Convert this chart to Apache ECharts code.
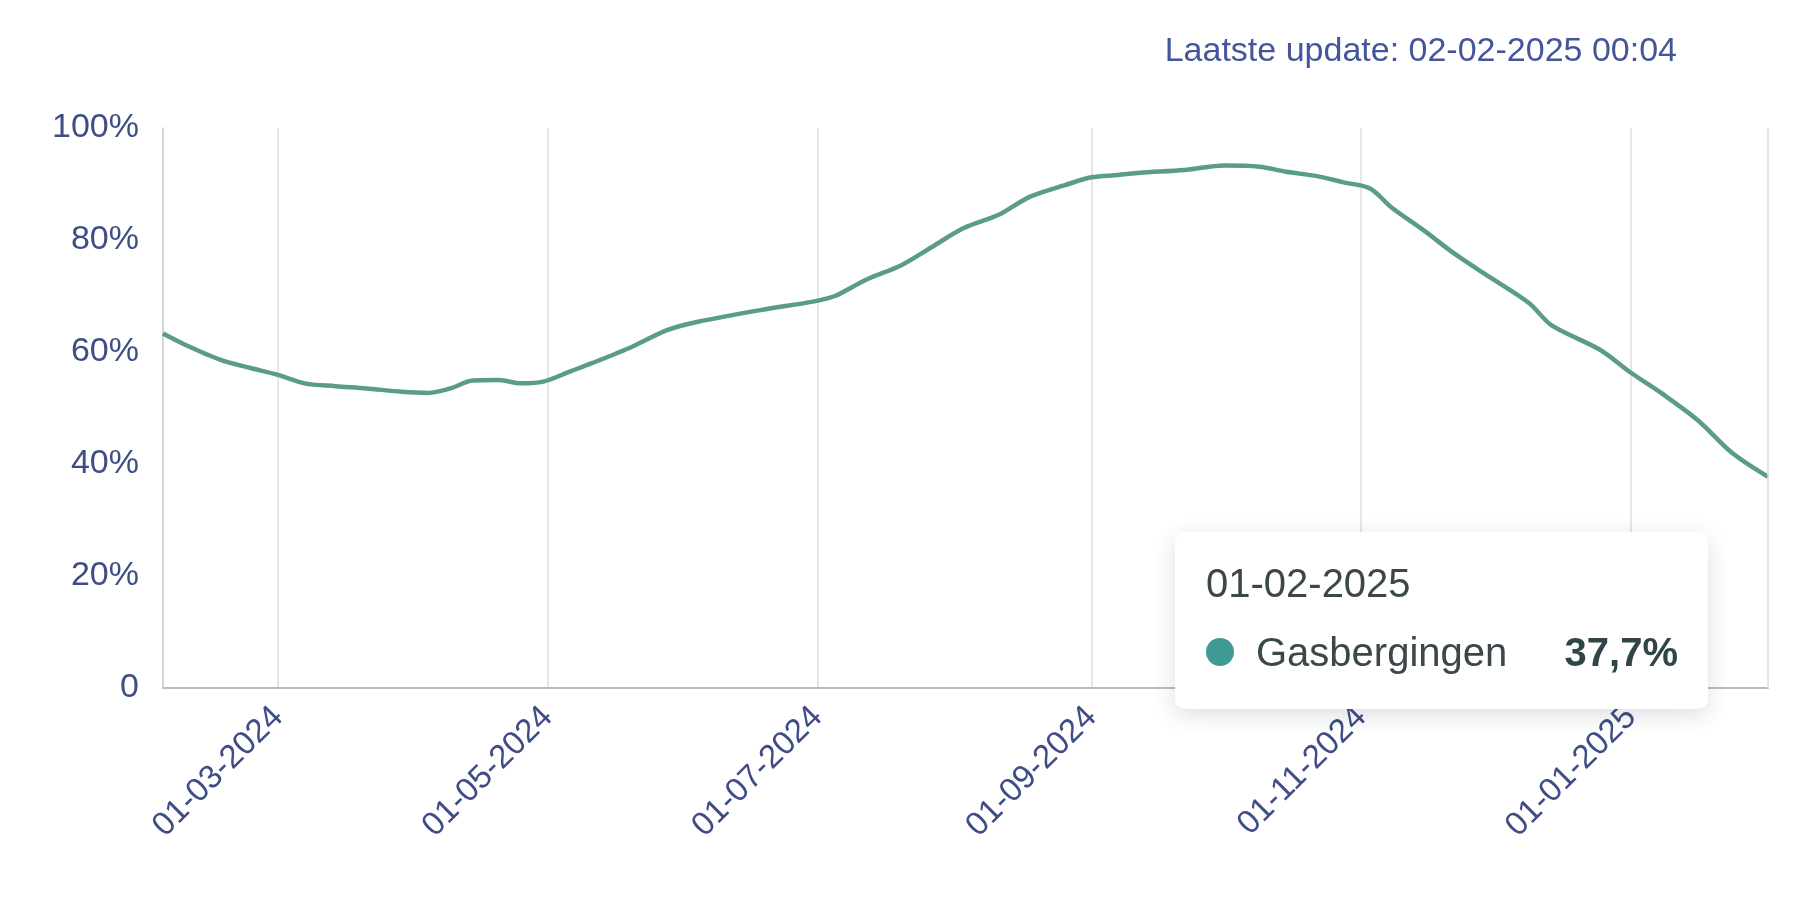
<!DOCTYPE html>
<html>
<head>
<meta charset="utf-8">
<title>Gasbergingen</title>
<script src="https://cdn.jsdelivr.net/npm/echarts@6/dist/echarts.min.js"></script>
<style>
  html, body { margin: 0; padding: 0; background: #ffffff; }
  #chart { width: 1820px; height: 910px; }
</style>
</head>
<body>
<div id="chart"></div>
<script>
 var seriesName = 'Gasbergingen';
 var updateText = 'Laatste update: 02-02-2025 00:04';
 var dates = ['2024-02-04','2024-02-09','2024-02-17','2024-02-24','2024-03-01','2024-03-07','2024-03-14','2024-03-21','2024-03-29','2024-04-04',
              '2024-04-09','2024-04-14','2024-04-20','2024-04-25','2024-04-30','2024-05-06','2024-05-11','2024-05-20','2024-05-28','2024-06-04',
              '2024-06-19','2024-06-30','2024-07-05','2024-07-12','2024-07-20','2024-07-27','2024-08-03','2024-08-11','2024-08-18','2024-08-26',
              '2024-09-01','2024-09-07','2024-09-12','2024-09-22','2024-10-01','2024-10-09','2024-10-15','2024-10-22','2024-10-28','2024-11-03',
              '2024-11-08','2024-11-15','2024-11-22','2024-11-30','2024-12-09','2024-12-14','2024-12-25','2025-01-01','2025-01-08','2025-01-16',
              '2025-01-24','2025-02-01'];
 var values = [63.3,61.3,58.6,57.1,55.9,54.4,53.9,53.5,52.9,52.7,
               53.5,54.9,55.0,54.4,54.7,56.5,58.0,60.9,63.9,65.4,
               67.6,69.0,70.0,72.9,75.5,78.8,82.1,84.5,87.7,89.8,
               91.2,91.6,92.0,92.5,93.3,93.1,92.2,91.4,90.3,89.2,
               85.7,81.8,77.6,73.4,68.7,64.8,60.4,56.3,52.6,47.9,
               41.9,37.7];
 var xTicks = ['2024-03-01','2024-05-01','2024-07-01','2024-09-01','2024-11-01','2025-01-01'];

 function pad(n) {
   return (n < 10 ? '0' : '') + n;
 }
 function toTime(s) {
   var p = s.split('-');
   return new Date(+p[0], +p[1] - 1, +p[2]).getTime();
 }
 function fmtDate(v) {
   var d = new Date(v);
   return pad(d.getDate()) + '-' + pad(d.getMonth() + 1) + '-' + d.getFullYear();
 }

 function makeOption() {
   var data = [];
   for (var i = 0; i < dates.length; i++) {
     data.push([toTime(dates[i]), values[i]]);
   }
   var tickTimes = xTicks.map(toTime);
   var option = {
     animation: false,
     textStyle: { fontFamily: 'Liberation Sans, Arial, sans-serif' },
     title: {
       text: updateText,
       right: 143,
       top: 35,
       padding: 0,
       textStyle: { color: '#44559a', fontSize: 34, fontWeight: 'normal' }
     },
     grid: { left: 163, right: 52, top: 128, bottom: 222, outerBoundsMode: 'none' },
     tooltip: {
       trigger: 'axis',
       triggerOn: 'none',
       alwaysShowContent: true,
       transitionDuration: 0,
       position: [1175, 532],
       backgroundColor: '#ffffff',
       borderWidth: 0,
       padding: 0,
       extraCssText: 'border-radius:10px;box-shadow:0 6px 22px rgba(40,50,60,0.16);',
       axisPointer: {
         type: 'line',
         label: { show: false },
         lineStyle: { color: '#d9dbe2', width: 1.5, type: 'solid' }
       },
       formatter: function (params) {
         var p = params[0];
         var val = p.value[1].toFixed(1).replace('.', ',') + '%';
         return '<div style="width:472px;padding:28px 30px 34px 31px;font-family:Liberation Sans,Arial,sans-serif;color:#3c4749;">' +
           '<div style="font-size:40px;line-height:46px;">' + fmtDate(p.value[0]) + '</div>' +
           '<div style="font-size:40px;line-height:46px;margin-top:23px;display:flex;align-items:center;">' +
           '<span style="display:inline-block;width:28px;height:28px;border-radius:14px;background:#3f9a94;margin-right:22px;"></span>' +
           '<span style="flex:1;">' + seriesName + '</span>' +
           '<span style="font-weight:bold;color:#2f4547;">' + val + '</span>' +
           '</div></div>';
       }
     },
     xAxis: {
       type: 'value',
       min: toTime(dates[0]),
       max: toTime(dates[dates.length - 1]),
       axisLine: { show: true, lineStyle: { color: '#b7bbc6', width: 2 } },
       axisTick: { show: false, customValues: tickTimes },
       splitLine: { show: true, lineStyle: { color: '#dcdee5', width: 1.5 } },
       axisLabel: {
         customValues: tickTimes,
         rotate: 45,
         margin: 24,
         fontSize: 33,
         color: '#3e4d86',
         formatter: function (v) { return fmtDate(v); }
       }
     },
     yAxis: {
       type: 'value',
       min: 0,
       max: 100,
       interval: 20,
       axisLine: { show: true, lineStyle: { color: '#c4c7d1', width: 1.5 } },
       axisTick: { show: false },
       splitLine: { show: false },
       axisLabel: {
         margin: 24,
         fontSize: 34,
         color: '#3e4d86',
         formatter: function (v) { return v === 0 ? '0' : v + '%'; }
       }
     },
     series: [
       {
         name: seriesName,
         type: 'line',
         data: data,
         smooth: 0.3,
         symbol: 'none',
         lineStyle: { color: '#5a9c84', width: 4.5 },
         itemStyle: { color: '#3f9a94' },
         emphasis: { disabled: true }
       }
     ]
   };
   return option;
 }

 function setChart(id, option) {
   var myChart = echarts.init(document.getElementById(id));
   myChart.setOption(option);
   myChart.dispatchAction({ type: 'showTip', seriesIndex: 0, dataIndex: dates.length - 1 });
 }

 setChart('chart', makeOption());
</script>
</body>
</html>
